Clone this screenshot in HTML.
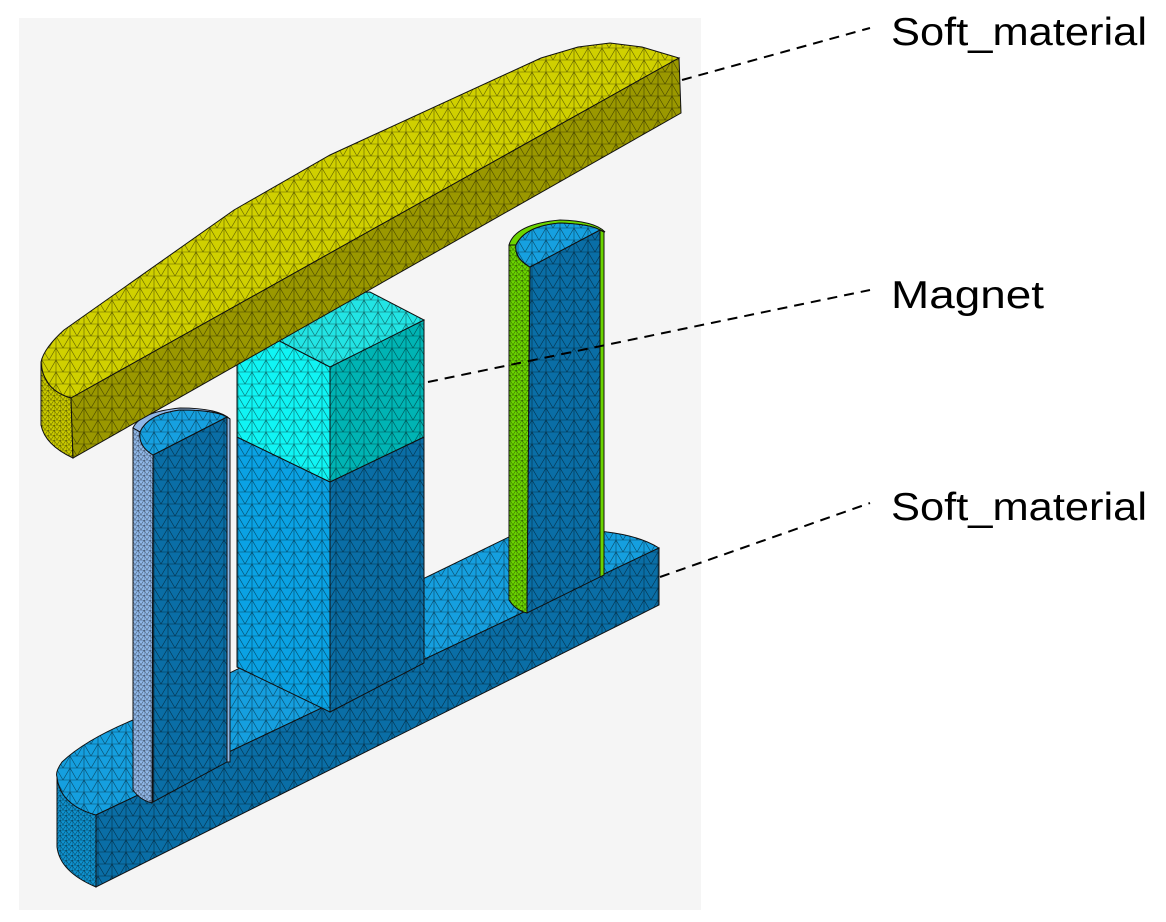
<!DOCTYPE html>
<html><head><meta charset="utf-8">
<style>
html,body{margin:0;padding:0;background:#fff;}
svg{display:block;}
text{font-family:"Liberation Sans",sans-serif;font-size:39px;fill:#000;}
</style></head>
<body>
<svg width="1166" height="922" viewBox="0 0 1166 922" xmlns="http://www.w3.org/2000/svg">
<defs>
<pattern id="m" width="14" height="12" patternUnits="userSpaceOnUse">
<path d="M0 0H14M0 12H14M0 0L7 12L14 0M0 12L0 0M14 0L14 12M7 12L0 0" stroke="#000" stroke-width="0.6" fill="none" opacity="0.55"/>
</pattern>
<pattern id="mf" width="6" height="5" patternUnits="userSpaceOnUse">
<path d="M0 0H6M0 0L3 5L6 0M0 0V5" stroke="#000" stroke-width="0.5" fill="none" opacity="0.6"/>
</pattern>
</defs>
<rect x="19" y="18" width="682" height="892" fill="#f5f5f5"/>

<!-- BASE -->
<g stroke="#111" stroke-width="1">
<path d="M57,777 Q60,805 96,815 L96,887 Q60,872 57,847 Z" fill="#0f90cc"/>
<path d="M57,777 Q60,805 96,815 L96,887 Q60,872 57,847 Z" fill="url(#mf)" stroke="none"/>
<path d="M96,815 L659,548 Q640,536 607,532 Q560,524 509,537 L133,720 Q85,740 62,762 Q55,772 57,777 Q60,805 96,815 Z" fill="#159fdf"/>
<path d="M96,815 L659,548 Q640,536 607,532 Q560,524 509,537 L133,720 Q85,740 62,762 Q55,772 57,777 Q60,805 96,815 Z" fill="url(#m)" stroke="none"/>
<path d="M96,815 L659,548 L659,605 L96,887 Z" fill="#0a6ea6"/>
<path d="M96,815 L659,548 L659,605 L96,887 Z" fill="url(#m)" stroke="none"/>
</g>

<!-- COLUMN -->
<g stroke="#111" stroke-width="1">
<path d="M237,437 L330,482 L330,712 L237,667 Z" fill="#0aa2e4"/>
<path d="M237,437 L330,482 L330,712 L237,667 Z" fill="url(#m)" stroke="none"/>
<path d="M330,482 L424,437 L424,663 L330,712 Z" fill="#0a6ea6"/>
<path d="M330,482 L424,437 L424,663 L330,712 Z" fill="url(#m)" stroke="none"/>
<path d="M237,319 L330,367 L330,482 L237,437 Z" fill="#10f4f4"/>
<path d="M237,319 L330,367 L330,482 L237,437 Z" fill="url(#m)" stroke="none"/>
<path d="M330,367 L424,320 L424,437 L330,482 Z" fill="#00b4b4"/>
<path d="M330,367 L424,320 L424,437 L330,482 Z" fill="url(#m)" stroke="none"/>
<path d="M237,319 L330,367 L424,320 L370,292 L283,295 Z" fill="#22e4e4"/>
<path d="M237,319 L330,367 L424,320 L370,292 L283,295 Z" fill="url(#m)" stroke="none"/>
</g>

<!-- LEFT POST -->
<g stroke="#111" stroke-width="1">
<path d="M133,428 Q140,412 180,408 Q218,408 230,419 L227,417 Q215,410 180,410 Q148,414 140,432 Z" fill="#8fb6e6"/>
<path d="M133,428 L133,790 Q140,800 152,803 L153,455 Q138,446 140,432 Z" fill="#8fb6e6"/>
<path d="M133,428 L133,790 Q140,800 152,803 L153,455 Q138,446 140,432 Z" fill="url(#mf)" stroke="none"/>
<path d="M153,455 L227,417 L227,762 L153,802 Z" fill="#0a6ea6"/>
<path d="M153,455 L227,417 L227,762 L153,802 Z" fill="url(#m)" stroke="none"/>
<path d="M227,417 L230,419 L230,762 L227,762 Z" fill="#8fb6e6"/>
<path d="M153,455 Q138,446 140,432 Q148,414 180,410 Q215,410 227,417 Z" fill="#16a0e0"/>
<path d="M153,455 Q138,446 140,432 Q148,414 180,410 Q215,410 227,417 Z" fill="url(#m)" stroke="none"/>
</g>

<!-- RIGHT POST -->
<g stroke="#111" stroke-width="1">
<path d="M509,245 Q515,224 560,220 Q595,221 605,232 L600,230 Q590,224 560,223 Q525,226 516,245 Z" fill="#6ad400"/>
<path d="M509,245 L509,600 Q515,610 527,613 L530,267 Q514,258 516,245 Z" fill="#6ad400"/>
<path d="M509,245 L509,600 Q515,610 527,613 L530,267 Q514,258 516,245 Z" fill="url(#mf)" stroke="none"/>
<path d="M530,267 L600,230 L600,577 L527,613 Z" fill="#0a6ea6"/>
<path d="M530,267 L600,230 L600,577 L527,613 Z" fill="url(#m)" stroke="none"/>
<path d="M600,230 L604,232 L604,575 L600,577 Z" fill="#6ad400"/>
<path d="M530,267 Q514,258 516,245 Q525,226 560,223 Q590,224 600,230 Z" fill="#16a0e0"/>
<path d="M530,267 Q514,258 516,245 Q525,226 560,223 Q590,224 600,230 Z" fill="url(#m)" stroke="none"/>
</g>

<!-- TOP BAR -->
<g stroke="#111" stroke-width="1">
<path d="M41,362 Q43,390 71,398 L73,458 Q45,445 41,425 Z" fill="#c8c800"/>
<path d="M41,362 Q43,390 71,398 L73,458 Q45,445 41,425 Z" fill="url(#mf)" stroke="none"/>
<path d="M71,398 L679,58 L642,47 L610,43 L578,47 L541,58 L330,155 L234,210 L64,330 Q44,348 41,362 Q43,390 71,398 Z" fill="#d0d000"/>
<path d="M71,398 L679,58 L642,47 L610,43 L578,47 L541,58 L330,155 L234,210 L64,330 Q44,348 41,362 Q43,390 71,398 Z" fill="url(#m)" stroke="none"/>
<path d="M71,398 L679,58 L681,113 L73,458 Z" fill="#9a9800"/>
<path d="M71,398 L679,58 L681,113 L73,458 Z" fill="url(#m)" stroke="none"/>
</g>

<g stroke="#000" stroke-width="2" stroke-dasharray="10,7" fill="none">
<line x1="682" y1="80" x2="870" y2="28"/>
<line x1="428" y1="382" x2="870" y2="290"/>
<line x1="660" y1="577" x2="870" y2="503"/>
</g>
<text x="891" y="45" textLength="256" lengthAdjust="spacingAndGlyphs">Soft_material</text>
<text x="891" y="308" textLength="153" lengthAdjust="spacingAndGlyphs">Magnet</text>
<text x="891" y="520" textLength="256" lengthAdjust="spacingAndGlyphs">Soft_material</text>
</svg>
</body></html>
